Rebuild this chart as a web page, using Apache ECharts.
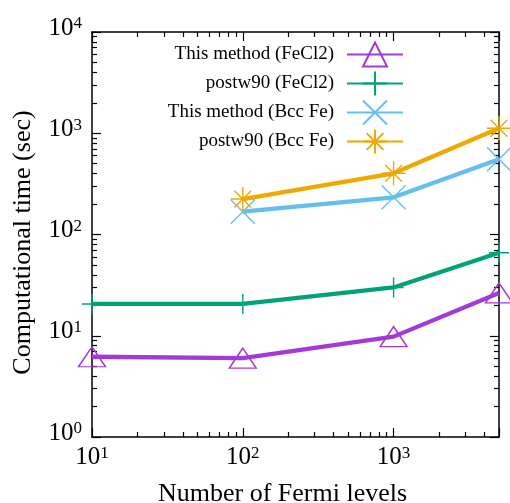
<!DOCTYPE html>
<html>
<head>
<meta charset="utf-8">
<script src="https://cdn.jsdelivr.net/npm/echarts@6/dist/echarts.min.js"></script>
<style>
  html, body { margin: 0; padding: 0; background: #fff; }
  #chart { width: 510px; height: 503px; }
</style>
</head>
<body>
<div id="chart"></div>
<script>
// data
const fermiLevels = [10, 100, 1000, 5000];
const methodFeCl2 = [6.2, 6.0, 9.8, 26.5];
const postw90FeCl2 = [20.6, 20.6, 30, 66];
const methodBccFe = [null, 168, 233, 553];
const postw90BccFe = [null, 224, 402, 1120];

const seriesNames = ['This method (FeCl2)', 'postw90 (FeCl2)', 'This method (Bcc Fe)', 'postw90 (Bcc Fe)'];
const colors = ['#a23ad8', '#00a27a', '#64bfec', '#ecaa00'];

const serif = 'Liberation Serif';
const plusPath = 'path://M0,-10L0,10M-10,0L10,0';
const crossPath = 'path://M-10,-10L10,10M-10,10L10,-10';
const starPath = 'path://M0,-10L0,10M-10,0L10,0M-7,-7L7,7M-7,7L7,-7';

// 10^n labels, nothing for the 5000 end tick
function pow10Label(v) {
  const e = Math.round(Math.log10(v));
  if (Math.abs(Math.log10(v) - e) > 1e-6) return '';
  return '{b|10}{s|' + e + '}';
}
const labelRich = {
  b: { fontSize: 25, lineHeight: 25, fontFamily: serif, color: '#000', verticalAlign: 'bottom' },
  s: { fontSize: 17, lineHeight: 17, fontFamily: serif, color: '#000', padding: [0, 0, 14, 0], verticalAlign: 'top' }
};

function logAxis(pos, min, max, showLabel, labelOpt) {
  return {
    type: 'log',
    min: min,
    max: max,
    position: pos,
    axisLine: { show: true, onZero: false, lineStyle: { color: '#000', width: 1.5 } },
    axisTick: { show: true, inside: true, length: 9, lineStyle: { color: '#000', width: 1.2 } },
    minorTick: { show: true, splitNumber: 9, length: 5, lineStyle: { color: '#000', width: 1.2 } },
    axisLabel: Object.assign({
      show: showLabel,
      formatter: pow10Label,
      rich: labelRich
    }, labelOpt || {}),
    splitLine: { show: false },
    minorSplitLine: { show: false }
  };
}

const xBottom = logAxis('bottom', 10, 5000, true, { margin: 8 });
xBottom.name = 'Number of Fermi levels';
xBottom.nameLocation = 'middle';
xBottom.nameGap = 38;
xBottom.nameTextStyle = { fontSize: 26, fontFamily: serif, color: '#000', padding: [0, 26, 0, 0] };

const yLeft = logAxis('left', 1, 10000, true, { margin: 10, padding: [0, 0, 8, 0] });
yLeft.name = 'Computational time (sec)';
yLeft.nameLocation = 'middle';
yLeft.nameGap = 56;
yLeft.nameTextStyle = { fontSize: 26, fontFamily: serif, color: '#000', padding: [0, 16, 0, 0] };

function makeSeries(i, values, symbol, size) {
  const pts = [];
  fermiLevels.forEach(function (x, j) {
    if (values[j] != null) pts.push([x, values[j]]);
  });
  return {
    name: seriesNames[i],
    type: 'line',
    xAxisIndex: 0,
    yAxisIndex: 0,
    data: pts,
    symbol: symbol,
    symbolSize: size,
    showAllSymbol: true,
    clip: false,
    lineStyle: { color: colors[i], width: 4.3 },
    itemStyle: { color: 'none', borderColor: colors[i], borderWidth: 1.4 },
    emphasis: { disabled: true }
  };
}

const legendRows = [55, 84, 113, 142];
const legends = seriesNames.map(function (name, i) {
  return {
    data: [name],
    align: 'right',
    right: 106,
    top: legendRows[i] - 15,
    itemWidth: 56,
    itemHeight: 30,
    padding: 0,
    selectedMode: false,
    textStyle: { fontSize: 19, fontFamily: serif, color: '#000', padding: [0, 8, 0, 0] }
  };
});

const chart = echarts.init(document.getElementById('chart'), null, { renderer: 'canvas' });
chart.setOption({
  backgroundColor: '#fff',
  animation: false,
  grid: { left: 92, top: 32, width: 407, height: 405, containLabel: false, outerBoundsMode: 'none' },
  legend: legends,
  xAxis: [xBottom, logAxis('top', 10, 5000, false)],
  yAxis: [yLeft, logAxis('right', 1, 10000, false)],
  series: [
    makeSeries(0, methodFeCl2, 'triangle', [27, 20]),
    makeSeries(1, postw90FeCl2, plusPath, 20),
    makeSeries(2, methodBccFe, crossPath, 24),
    makeSeries(3, postw90BccFe, starPath, 24)
  ]
});
</script>
</body>
</html>
